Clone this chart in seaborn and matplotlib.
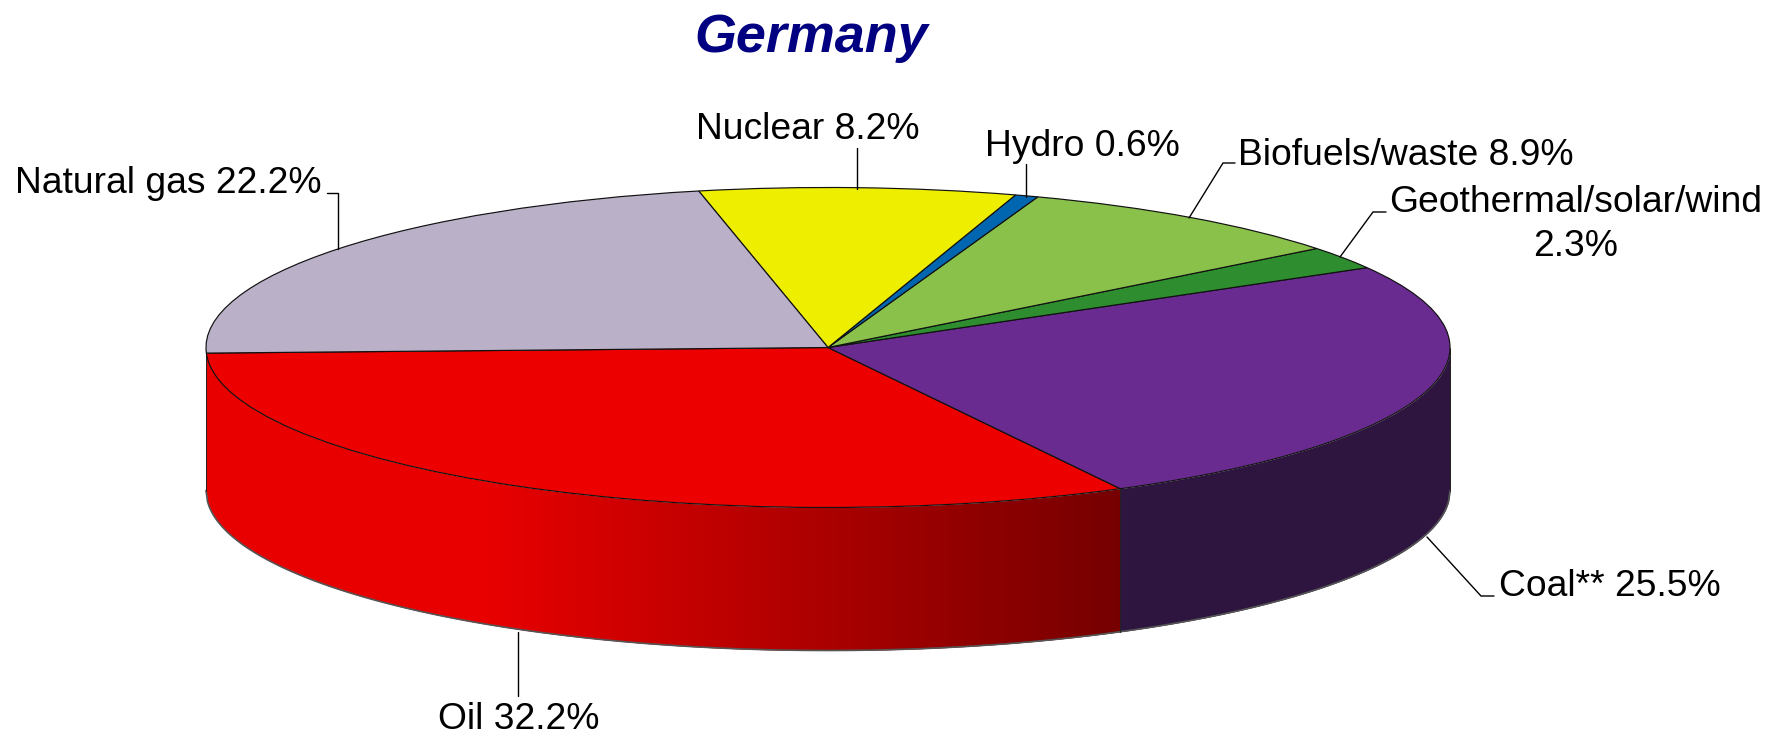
import numpy as np
import matplotlib
matplotlib.use("Agg")
import matplotlib.pyplot as plt
import seaborn as sns

categories = ["Oil", "Coal**", "Geothermal/solar/wind", "Biofuels/waste", "Hydro", "Nuclear", "Natural gas"]
shares = [32.2, 25.5, 2.3, 8.9, 0.6, 8.2, 22.2]
title = "Germany"
top_colors = ["#EC0000", "#692B8F", "#2E8D2E", "#89C14B", "#0066B0", "#EEEE00", "#BAB0C8"]

sns.set_theme(style="white")
plt.rcParams["font.family"] = ["Liberation Sans", "DejaVu Sans"]
palette = sns.color_palette(top_colors)

W, H = 1767, 735
CX, CY, RX, RY, DEPTH = 828, 347.5, 622, 160, 143
START = 182

fig = plt.figure(figsize=(W / 100, H / 100), dpi=100, facecolor="white")

# pie axes: unit circle is stretched into the perspective ellipse
ax = fig.add_axes([(CX - RX) / W, 1 - (CY + RY) / H, 2 * RX / W, 2 * RY / H])
wedges, _ = ax.pie(shares, colors=palette, startangle=START, counterclock=True, radius=1,
                   wedgeprops=dict(edgecolor="#111111", linewidth=0.85, zorder=5))
ax.set_aspect("auto")
ax.set_xlim(-1, 1)
ax.set_ylim(-1, 1)
ax.axis("off")
for w in wedges:
    w.set_clip_on(False)

# side wall, derived from the slice boundary of the first share
d = DEPTH / RY
boundary = np.cos(np.deg2rad(START + 360 * shares[0] / sum(shares)))
edges = np.linspace(-1, 1, 1245)
for x0, x1 in zip(edges[:-1], edges[1:]):
    xm = (x0 + x1) / 2
    if xm < boundary:
        t = np.clip((xm + 0.55) / (boundary + 0.55), 0, 1)
        col = (np.interp(t, [0, 1], [0.91, 0.46]), 0, 0)
    else:
        col = "#2D1540"
    xs = np.clip(np.array([x0, x1 + 0.001]), -1, 1)
    low = -np.sqrt(np.clip(1 - xs ** 2, 0, 1))
    ax.fill_between(xs, low, low - d, color=col, linewidth=0, zorder=1, clip_on=False)

xx = np.linspace(-1, 1, 800)
base = -np.sqrt(1 - xx ** 2) - d
ax.plot(xx, base, color="#555555", lw=1.2, zorder=2, clip_on=False)
for xv in (-1, 1):
    ax.plot([xv, xv], [0, -d], color="#222222", lw=0.7, zorder=2, clip_on=False)
yb = -np.sqrt(1 - boundary ** 2)
ax.plot([boundary, boundary], [yb, yb - d], color="#222222", lw=0.7, zorder=2, clip_on=False)

# overlay in pixel coordinates for labels and leader lines
ov = fig.add_axes([0, 0, 1, 1], zorder=10)
ov.set_xlim(0, W)
ov.set_ylim(H, 0)
ov.axis("off")
ov.patch.set_alpha(0)

FS = 26.8
label_layout = {
    "Oil": (519, 729, "center"),
    "Coal**": (1499, 596, "left"),
    "Biofuels/waste": (1238, 165, "left"),
    "Hydro": (1082, 156, "center"),
    "Nuclear": (808, 139, "center"),
    "Natural gas": (15, 193, "left"),
}
for name, val in zip(categories, shares):
    if name in label_layout:
        x, y, ha = label_layout[name]
        ov.text(x, y, f"{name} {val}%", fontsize=FS, ha=ha, va="baseline", color="black")
geo_i = categories.index("Geothermal/solar/wind")
ov.text(1576, 212, categories[geo_i], fontsize=FS, ha="center", va="baseline", color="black")
ov.text(1576, 256, f"{shares[geo_i]}%", fontsize=FS, ha="center", va="baseline", color="black")

ov.text(811, 52, title, fontsize=38.8, fontweight="bold", fontstyle="italic",
        color="#000080", ha="center", va="baseline")

leaders = [
    [(327, 193), (338, 193), (338, 249)],
    [(857, 148), (857, 189)],
    [(1026, 164), (1026, 197)],
    [(1235, 163), (1223, 163), (1189, 218)],
    [(1386, 212), (1373, 212), (1340, 257)],
    [(1494, 596), (1481, 596), (1427, 537)],
    [(518, 632), (518, 696)],
]
for pts in leaders:
    a = np.array(pts)
    ov.plot(a[:, 0], a[:, 1], color="black", lw=1.0, solid_joinstyle="miter")

fig.savefig("out.png", dpi=100, facecolor="white")
